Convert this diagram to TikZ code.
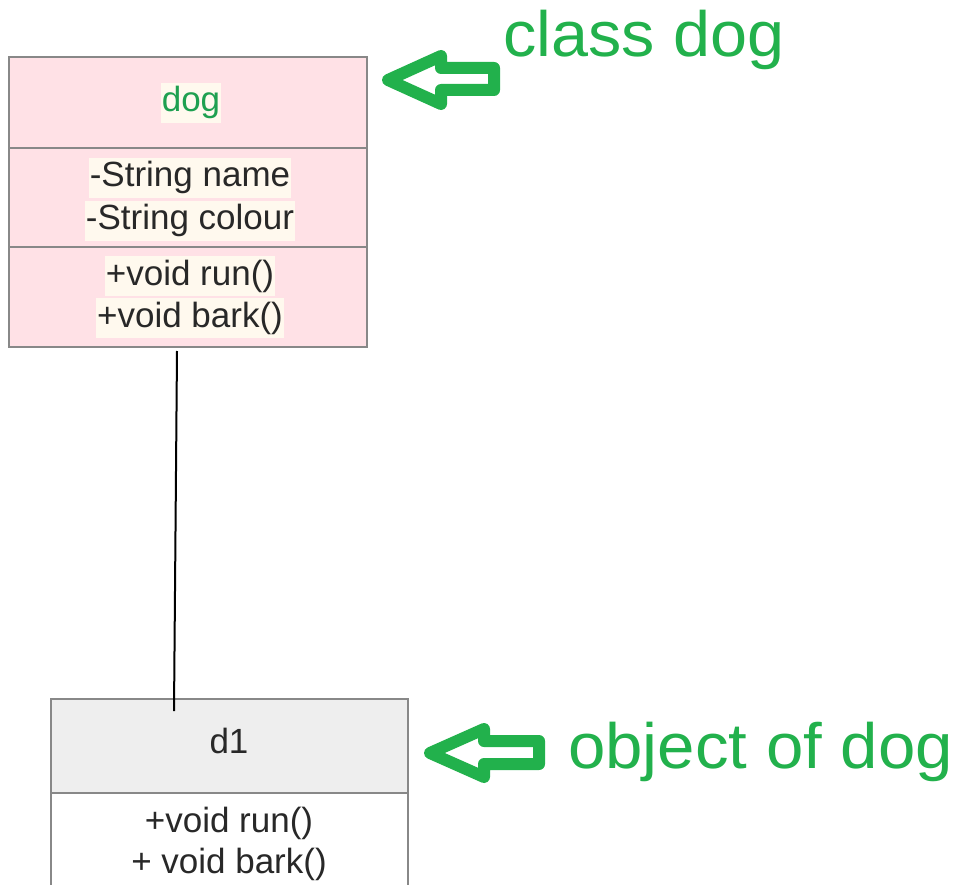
\documentclass[tikz,border=0pt]{standalone}
\usepackage{fontspec}
\setmainfont{Liberation Sans}
\definecolor{pgreen}{RGB}{34,177,76}
\definecolor{tgreen}{RGB}{30,160,80}
\definecolor{pinkfill}{RGB}{255,225,230}
\definecolor{cream}{RGB}{255,249,238}
\definecolor{hdrgray}{RGB}{238,238,238}
\definecolor{bordergray}{RGB}{136,136,136}
\definecolor{txt}{RGB}{40,40,40}
\tikzset{
  boxline/.style={draw=bordergray, line width=2pt},
  umltext/.style={font=\fontsize{35}{40}\selectfont, text=txt, anchor=base, inner xsep=1pt, inner ysep=3pt, text height=26pt, text depth=8pt},
  hl/.style={umltext, fill=cream},
  bigtext/.style={font=\fontsize{64}{72}\selectfont, text=pgreen, anchor=base west, inner sep=0pt},
  hollowarrow/.style={draw=pgreen, line width=12pt, line join=round},
  connector/.style={draw=black, line width=2pt}
}
\begin{document}
\begin{tikzpicture}[x=1pt,y=-1pt]
\useasboundingbox (0,0) rectangle (955,885);
% class dog box
\draw[boxline, fill=pinkfill] (9,57) rectangle (367,347);
\draw[boxline] (9,148) -- (367,148);
\draw[boxline] (9,247) -- (367,247);
\node[hl, text=tgreen] (cname) at (191,112) {dog};
\node[hl] (attr1) at (190,187) {-String name};
\node[hl] (attr2) at (190,230) {-String colour};
\node[hl] (meth1) at (190,285) {+void run()};
\node[hl] (meth2) at (190,327) {+void bark()};
% object d1 box
\draw[boxline, fill=hdrgray] (51,699) rectangle (408,793);
\draw[boxline, fill=white] (51,793) rectangle (408,900);
\node[umltext] (oname) at (229,753) {d1};
\node[umltext] (ometh1) at (229,832) {+void run()};
\node[umltext] (ometh2) at (229,873) {+ void bark()};
% connector
\coordinate (ctop) at (177,351);
\coordinate (cbot) at (174,711);
\draw[connector] (ctop) -- (cbot);
% arrows
\draw[hollowarrow] (388,80) -- (441,56) -- (441,68) -- (494,68) -- (494,90) -- (441,90) -- (441,104) -- cycle;
\draw[hollowarrow] (430,753) -- (484,729) -- (484,741) -- (539,741) -- (539,764) -- (484,764) -- (484,777) -- cycle;
% labels
\node[bigtext] (lclass) at (503,57) {\scalebox{1.04}[1]{class dog}};
\node[bigtext] (lobj) at (568,768) {\scalebox{1.05}[1]{object of dog}};
\end{tikzpicture}
\end{document}
